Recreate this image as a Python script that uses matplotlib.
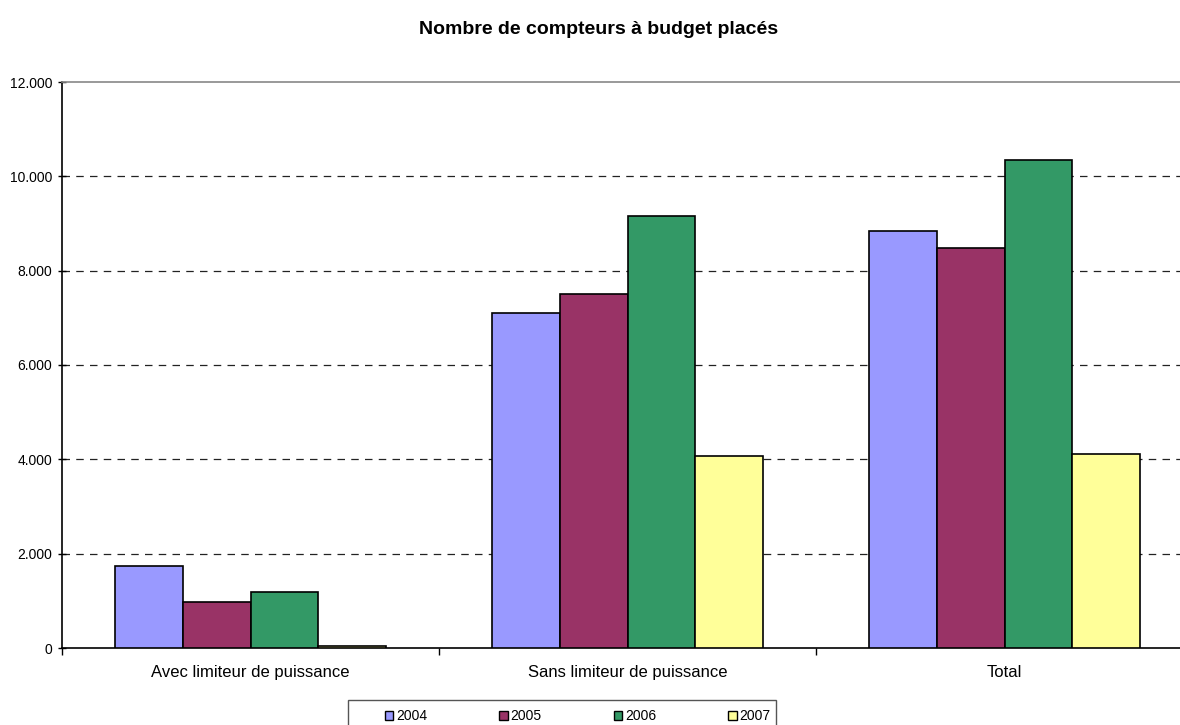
import matplotlib
matplotlib.use("Agg")
import matplotlib.pyplot as plt
import numpy as np
from matplotlib.ticker import FuncFormatter, FixedLocator
from matplotlib.patches import Rectangle

plt.rcParams['font.family'] = ['Liberation Sans', 'DejaVu Sans']

categories = ["Avec limiteur de puissance", "Sans limiteur de puissance", "Total"]
years = ["2004", "2005", "2006", "2007"]
values_2004 = [1740, 7110, 8850]
values_2005 = [975, 7505, 8480]
values_2006 = [1190, 9160, 10350]
values_2007 = [40, 4070, 4110]
series = [values_2004, values_2005, values_2006, values_2007]
colors = ["#9999FF", "#993366", "#339966", "#FFFF99"]

W, H = 1180, 725
fig = plt.figure(figsize=(W / 100, H / 100), dpi=100)
ax = fig.add_axes([62 / W, 1 - 648 / H, 1131 / W, 566 / H])

x = np.arange(len(categories))
width = 0.18
for i, (vals, col, yr) in enumerate(zip(series, colors, years)):
    ax.bar(x + (i - 1.5) * width, vals, width, color=col, edgecolor="black",
           linewidth=1.2, label=yr, zorder=3)

ax.set_xlim(-0.5, 2.5)
ax.set_ylim(0, 12000)
ax.set_yticks(np.arange(0, 12001, 2000))
ax.yaxis.set_major_formatter(FuncFormatter(lambda v, p: f"{int(v):,}".replace(",", ".")))
ax.tick_params(axis='y', labelsize=10, length=6, width=1, direction='inout', pad=4)

ax.xaxis.set_major_locator(FixedLocator([-0.5, 0.5, 1.5, 2.5]))
ax.xaxis.set_minor_locator(FixedLocator(list(x)))
ax.set_xticklabels([], minor=False)
ax.set_xticklabels(categories, minor=True)
ax.tick_params(axis='x', which='major', length=5, width=1, direction='out')
ax.tick_params(axis='x', which='minor', length=0, labelsize=12, pad=12)

for yv in np.arange(2000, 12000, 2000):
    ax.axhline(yv, color="#222222", linestyle=(0, (6, 5)), linewidth=0.9, zorder=1)

ax.spines['top'].set_color('#888888')
ax.spines['top'].set_linewidth(1.2)
ax.spines['right'].set_visible(False)
ax.spines['left'].set_linewidth(1.2)
ax.spines['bottom'].set_linewidth(1.2)

fig.text(599 / W, 1 - 29 / H, "Nombre de compteurs à budget placés",
         fontsize=14, fontweight='bold', ha='center', va='center')

# legend entries without frame, spaced across the row; the box is drawn separately
leg = fig.legend(loc='center left', bbox_to_anchor=(385 / W, 1 - 716 / H),
                 ncol=4, fontsize=10, frameon=False,
                 handlelength=0.6, handleheight=0.6, handletextpad=0.2,
                 columnspacing=5.2, borderaxespad=0, borderpad=0)
for h in leg.legend_handles:
    h.set_linewidth(1.0)
fig.patches.append(Rectangle((348 / W, 1 - 732 / H), 428 / W, 32 / H,
                             transform=fig.transFigure, fill=False,
                             edgecolor='#555555', linewidth=1.0))

fig.savefig("out.png", dpi=100, facecolor="white")
